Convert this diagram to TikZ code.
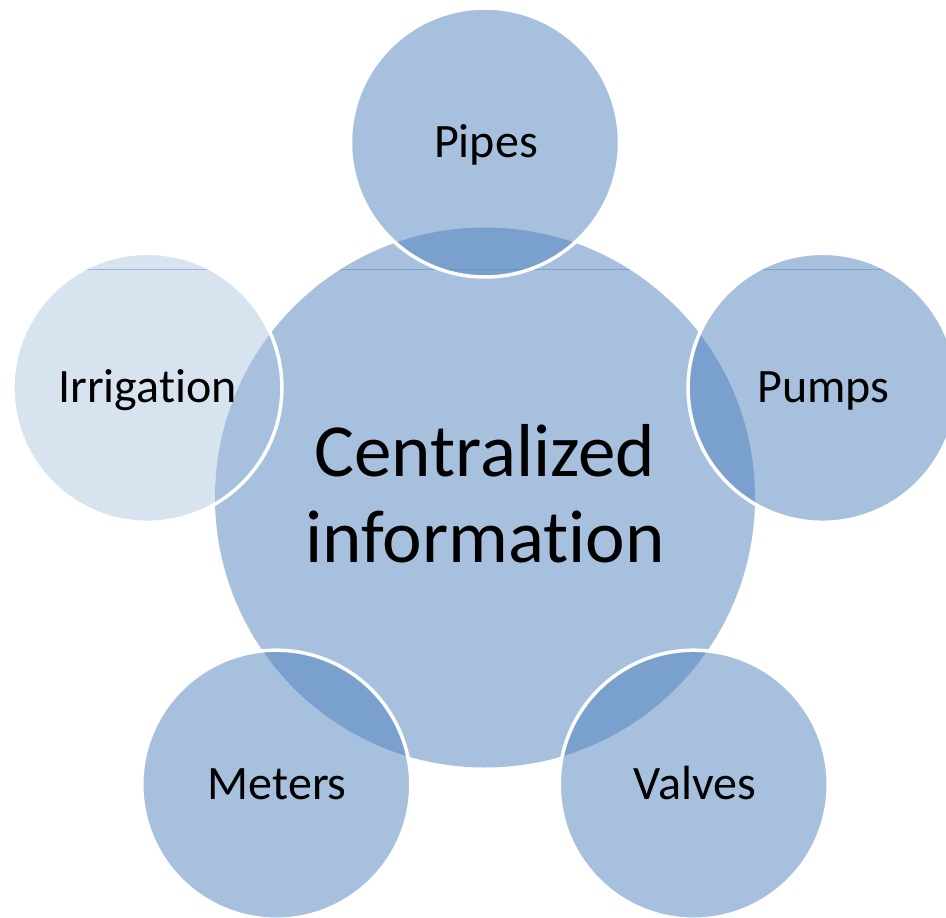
\documentclass[tikz,border=0pt]{standalone}
\usepackage{fontspec}
\setmainfont{Carlito}[Ligatures=NoCommon]
\definecolor{acc}{RGB}{79,129,189}
\tikzset{
  bubble/.style={circle, minimum size=269pt, inner sep=0pt, outer sep=0pt, fill=acc, fill opacity=0.5},
  hub/.style={circle, minimum size=540pt, inner sep=0pt, outer sep=0pt, fill=acc, fill opacity=0.5},
  ghost/.style={circle, minimum size=269pt, inner sep=0pt, outer sep=0pt},
  rim/.style={draw=white, line width=3.5pt},
  seam/.style={draw=acc, draw opacity=0.45, line width=0.8pt},
  lbl/.style={font=\fontsize{48}{57}\selectfont, anchor=base, inner sep=0pt, text=black},
  big/.style={font=\fontsize{75}{89}\selectfont, anchor=base, inner sep=0pt, text=black}
}
\begin{document}
\begin{tikzpicture}[x=1pt,y=-1pt]
\useasboundingbox (0,0) rectangle (946,918);
\clip (0,0) rectangle (946,918);
% centres
\coordinate (cC) at (485,497.5);
\coordinate (cPipes) at (485,142.5);
\coordinate (cPumps) at (822.6,387.8);
\coordinate (cIrr) at (147.4,387.8);
\coordinate (cValves) at (693.7,784.7);
\coordinate (cMeters) at (276.3,784.7);
% light irrigation circle, not darkening the hub
\begin{scope}
  \clip (cIrr) circle[radius=134.5];
  \fill[acc!22, even odd rule] (cIrr) circle[radius=134.5] (cC) circle[radius=270];
\end{scope}
\node[ghost] (irr) at (cIrr) {};
% hub and bubbles
\node[hub] (hub) at (cC) {};
\node[bubble] (pipes) at (cPipes) {};
\node[bubble] (pumps) at (cPumps) {};
\node[bubble] (valves) at (cValves) {};
\node[bubble] (meters) at (cMeters) {};
% faint horizontal seam
\begin{scope}
  \clip (cC) circle[radius=270] (cPipes) circle[radius=134.5] (cPumps) circle[radius=134.5] (cIrr) circle[radius=134.5];
  \coordinate (sL) at (0,269);
  \coordinate (sR) at (946,269);
  \draw[seam] (sL) -- (sR);
\end{scope}
% white rims
\draw[rim] (cPipes) circle[radius=134.5];
\draw[rim] (cPumps) circle[radius=134.5];
\draw[rim] (cIrr) circle[radius=134.5];
\draw[rim] (cValves) circle[radius=134.5];
\draw[rim] (cMeters) circle[radius=134.5];
% labels
\node[big] (t1) at (485,476) {Centralized};
\node[big] (t2) at (485,562) {information};
\node[lbl] (lPipes) at (486,157.5) {Pipes};
\node[lbl] (lPumps) at (823.6,402.5) {Pumps};
\node[lbl] (lIrr) at (147.4,402.5) {Irrigation};
\node[lbl] (lValves) at (694.7,799) {Valves};
\node[lbl] (lMeters) at (277.3,799) {Meters};
\end{tikzpicture}
\end{document}
